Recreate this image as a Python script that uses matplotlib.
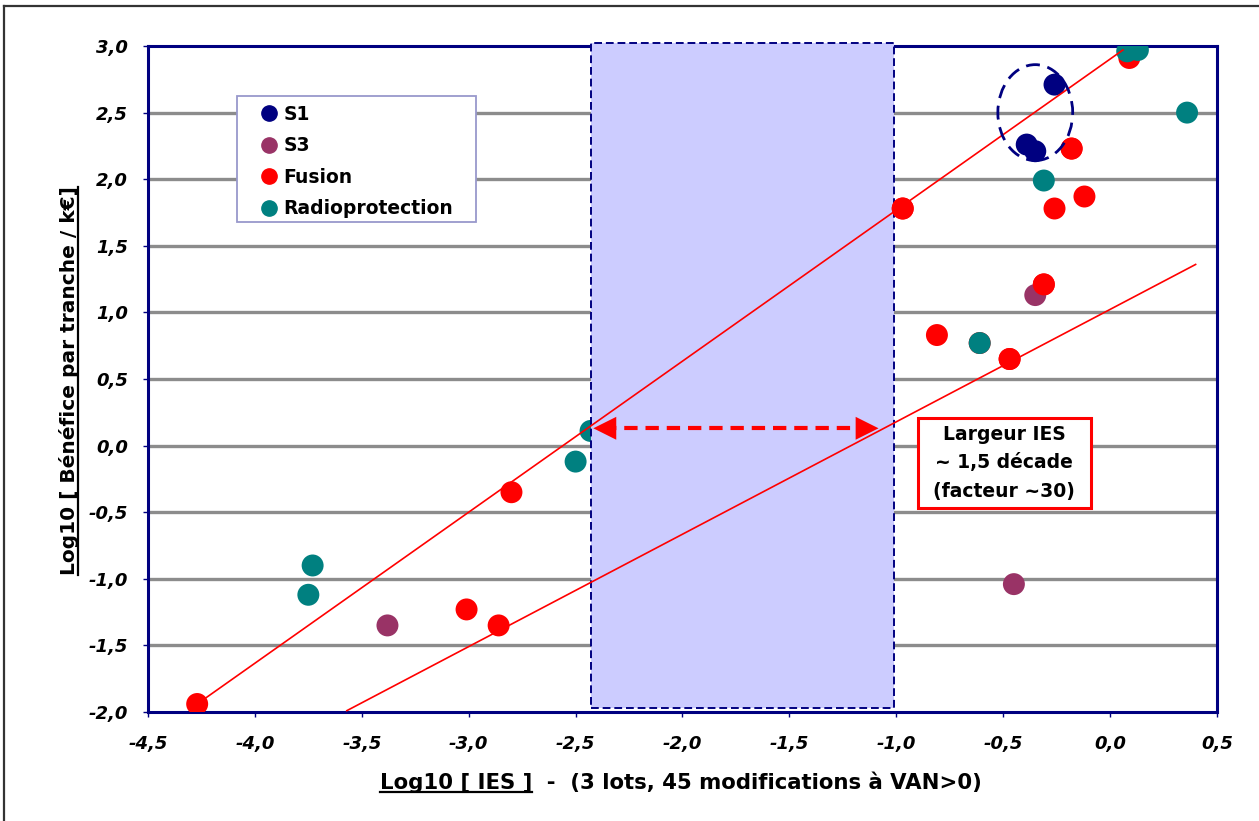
import matplotlib
matplotlib.use("Agg")
import matplotlib.pyplot as plt
from matplotlib.patches import Rectangle, Ellipse, FancyArrowPatch
from matplotlib.lines import Line2D
from matplotlib.ticker import FuncFormatter

plt.rcParams['font.family'] = ['DejaVu Sans']

# Log10 IES (x) and Log10 benefit per tranche (y) for each lot
s1_x = [-0.26, -0.39, -0.35]
s1_y = [2.71, 2.26, 2.21]

s3_x = [-3.38, -0.35, -0.45]
s3_y = [-1.35, 1.13, -1.04]

fusion_x = [-4.27, -2.80, -3.01, -2.86, -0.97, -0.81, -0.61, -0.47, -0.31,
            -0.26, -0.12, -0.18, 0.09]
fusion_y = [-1.94, -0.35, -1.23, -1.35, 1.78, 0.83, 0.77, 0.65, 1.21,
            1.78, 1.87, 2.23, 2.91]

radio_x = [-3.73, -3.75, -2.50, -2.43, -0.61, -0.31, 0.36, 0.08, 0.13]
radio_y = [-0.90, -1.12, -0.12, 0.11, 0.77, 1.99, 2.50, 2.96, 2.97]

# Envelope lines bounding the cloud of points
upper_x = [-4.27, 0.06]
upper_y = [-1.94, 2.97]
lower_x = [-3.57, 0.40]
lower_y = [-1.99, 1.36]

# IES band and its width
band_x = [-2.43, -1.01]
arrow_y = 0.13
arrow_x = [-2.43, -1.07]

xticks = [-4.5, -4.0, -3.5, -3.0, -2.5, -2.0, -1.5, -1.0, -0.5, 0.0, 0.5]
yticks = [-2.0, -1.5, -1.0, -0.5, 0.0, 0.5, 1.0, 1.5, 2.0, 2.5, 3.0]

NAVY = '#000080'
PURPLE = '#993366'
RED = '#FF0000'
TEAL = '#008080'

fig = plt.figure(figsize=(12.59, 8.21), dpi=100)
ax = fig.add_axes([148/1259, 1-712/821, (1217-148)/1259, (712-46)/821])
ax.set_xlim(xticks[0], xticks[-1])
ax.set_ylim(yticks[0], yticks[-1])

# horizontal grid
for yv in yticks[1:-1]:
    ax.axhline(yv, color='#8c8c8c', lw=2.4, zorder=1)

# shaded band (sits over the point on its left edge, under the lines)
band = Rectangle((band_x[0], -1.97), band_x[1]-band_x[0], 4.99,
                 facecolor='#CCCCFF', edgecolor=NAVY, lw=1.4,
                 linestyle=(0, (4, 2)), zorder=3, clip_on=False)
ax.add_patch(band)

# envelope lines
ax.plot(upper_x, upper_y, color=RED, lw=1.2, zorder=5)
ax.plot(lower_x, lower_y, color=RED, lw=1.2, zorder=5)

ms = 250
in_band = [i for i, x in enumerate(radio_x) if band_x[0] - 0.05 < x < band_x[1]]
rx_front = [x for i, x in enumerate(radio_x) if i not in in_band]
ry_front = [y for i, y in enumerate(radio_y) if i not in in_band]
ax.scatter([radio_x[i] for i in in_band], [radio_y[i] for i in in_band],
           s=ms, color=TEAL, edgecolors='none', zorder=2)
ax.scatter(fusion_x, fusion_y, s=ms, color=RED, edgecolors='none', zorder=4)
ax.scatter(s3_x, s3_y, s=ms, color=PURPLE, edgecolors='none', zorder=4.1)
ax.scatter(rx_front, ry_front, s=ms, color=TEAL, edgecolors='none', zorder=4.2)
ax.scatter(s1_x, s1_y, s=ms, color=NAVY, edgecolors='none', zorder=4.3)
# fusion points that sit in front of their neighbours
front = (4, 7, 8, 11)
ax.scatter([fusion_x[i] for i in front], [fusion_y[i] for i in front],
           s=ms, color=RED, edgecolors='none', zorder=4.4)

# dashed ellipse around S1
ax.add_patch(Ellipse((-0.35, 2.50), 0.35, 0.72, fill=False, edgecolor=NAVY,
                     lw=2.0, linestyle=(0, (5, 2.8)), zorder=5.5))

# double arrow across the band
ax.plot([arrow_x[0] + 0.06, arrow_x[1] - 0.06], [arrow_y, arrow_y], color=RED, lw=3.0,
        linestyle=(0, (3.2, 1.9)), zorder=6, solid_capstyle='butt')
for tip, tail in ((arrow_x[0], arrow_x[0] + 0.1), (arrow_x[1], arrow_x[1] - 0.1)):
    ax.add_patch(FancyArrowPatch((tail, arrow_y), (tip, arrow_y),
                                 arrowstyle='-|>,head_length=1.1,head_width=0.55',
                                 mutation_scale=15, color=RED, lw=0, zorder=6))

# annotation box
box_x = [-0.898, -0.091]
box_y = [-0.468, 0.207]
ax.add_patch(Rectangle((box_x[0], box_y[0]), box_x[1]-box_x[0], box_y[1]-box_y[0],
                       facecolor='white', edgecolor=RED, lw=2.2, zorder=7))
ax.text(sum(box_x)/2, sum(box_y)/2, 'Largeur IES\n~ 1,5 décade\n(facteur ~30)',
        ha='center', va='center', fontsize=13.5, fontweight='bold',
        linespacing=1.65, zorder=7.5)

# axes styling
for sp in ax.spines.values():
    sp.set_color(NAVY)
    sp.set_linewidth(2.2)
ax.set_xticks(xticks)
ax.set_yticks(yticks)
fmt = FuncFormatter(lambda v, p: f'{v:.1f}'.replace('.', ','))
ax.xaxis.set_major_formatter(fmt)
ax.yaxis.set_major_formatter(fmt)
ax.tick_params(axis='both', direction='out', length=3.5, width=1, color=NAVY,
               labelsize=13)
ax.tick_params(axis='x', pad=13)
ax.tick_params(axis='y', pad=11)
for lab in ax.get_xticklabels() + ax.get_yticklabels():
    lab.set_fontweight('bold')
    lab.set_fontstyle('italic')

# legend: white frame drawn separately, entries placed inside it
ax.add_patch(Rectangle((89/1069, 490/666), 239/1069, 126/666, transform=ax.transAxes,
                       facecolor='white', edgecolor='#9999CC', lw=1.3, zorder=7))
handles = [Line2D([], [], marker='o', color=c, linestyle='none', markersize=11)
           for c in (NAVY, PURPLE, RED, TEAL)]
leg = ax.legend(handles, ['S1', 'S3', 'Fusion', 'Radioprotection'],
                loc='upper left', bbox_to_anchor=(112/1069, 607/666),
                frameon=False, handletextpad=0.25, handlelength=1.0,
                labelspacing=0.66, borderpad=0, borderaxespad=0,
                prop=dict(size=13.5, weight='bold'))
leg.set_zorder(8)

# axis titles, with the bracketed part underlined
xl1 = fig.text(377/1259, 1-783/821, 'Log10 [ IES ]', fontsize=15.3, fontweight='bold',
               ha='left', va='center')
xl2 = fig.text(531/1259, 1-783/821, '  -  (3 lots, 45 modifications à VAN>0)', fontsize=15.3,
               fontweight='bold', ha='left', va='center')
yl = fig.text(69/1259, 1-381/821, 'Log10 [ Bénéfice par tranche / k€]', fontsize=14.5,
              fontweight='bold', rotation=90, ha='center', va='center')

fig.canvas.draw()
r = fig.canvas.get_renderer()
W, H = fig.bbox.width, fig.bbox.height
bb = xl1.get_window_extent(r)
bb2 = xl2.get_window_extent(r)
total = bb2.x1 - bb.x0
x0 = 682 - total / 2
xl1.set_x(x0 / W)
xl2.set_x((x0 + bb.width) / W)
fig.add_artist(Line2D([x0/W, (x0 + bb.width)/W], [(bb.y0+1)/H]*2, color='black', lw=1.6))
by = yl.get_window_extent(r)
fig.add_artist(Line2D([(by.x1-1)/W]*2, [by.y0/H, by.y1/H], color='black', lw=1.6))

# outer frame
fig.add_artist(Line2D([4/W, 4/W], [0, 1-6/H], color='#333333', lw=1.6))
fig.add_artist(Line2D([4/W, 1], [1-6/H, 1-6/H], color='#333333', lw=1.6))

fig.savefig('out.png', dpi=100)
